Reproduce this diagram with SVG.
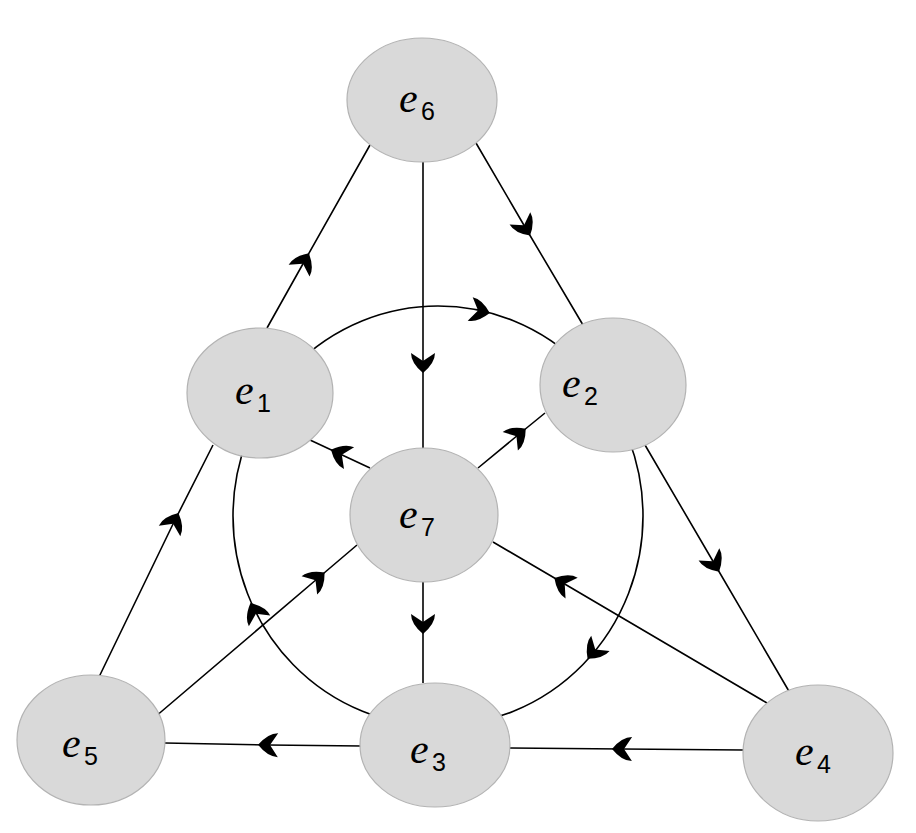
<svg xmlns="http://www.w3.org/2000/svg" xmlns:xlink="http://www.w3.org/1999/xlink" width="916" height="833" viewBox="0 0 916 833">
<style>
.edge{fill:none;stroke:#000;stroke-width:1.6;marker-mid:url(#mid)}
.ring{fill:none;stroke:#000;stroke-width:1.6}
.node{fill:#d9d9d9;stroke:#b3b3b3;stroke-width:1.2}
.v{font-family:"Liberation Serif","DejaVu Serif",serif;font-style:italic;font-size:42px;fill:#000}
.s{font-family:"Liberation Sans","DejaVu Sans",sans-serif;font-size:25px;fill:#000}
</style>
<defs>
<path id="ah" d="M10,0 Q0,-12 -10,-12 L-2,0 L-10,12 Q0,12 10,0 Z" fill="#000"/>
<marker id="mid" markerUnits="userSpaceOnUse" viewBox="-12 -14 24 28" markerWidth="24" markerHeight="28" refX="0" refY="0" orient="auto">
<use xlink:href="#ah" href="#ah"/>
</marker>
</defs>
<rect width="916" height="833" fill="#fff"/>
<g id="connectors">
<ellipse class="ring" cx="438" cy="516" rx="205" ry="210"/>
<use href="#ah" xlink:href="#ah" transform="translate(480,311) rotate(12)"/>
<use href="#ah" xlink:href="#ah" transform="translate(594,651) rotate(130)"/>
<use href="#ah" xlink:href="#ah" transform="translate(255,612) rotate(-117)"/>
<path class="edge" d="M267,328 L304,262 L370,145"/>
<path class="edge" d="M476,143 L525,227 L583,325"/>
<path class="edge" d="M423,162 L423,363 L423,449"/>
<path class="edge" d="M99,677 L174,522 L213,445"/>
<path class="edge" d="M155,717 L317,579 L357,545"/>
<path class="edge" d="M370,468 L340,454 L310,440"/>
<path class="edge" d="M478,468 L518,435 L545,413"/>
<path class="edge" d="M423,582 L423,624 L423,683"/>
<path class="edge" d="M767,703 L563,583 L493,542"/>
<path class="edge" d="M645,445 L714,563 L790,693"/>
<path class="edge" d="M743,750 L622,749 L510,748"/>
<path class="edge" d="M362,746 L268,745 L165,743"/>
</g>
<g id="e6"><ellipse class="node" cx="422" cy="100" rx="75" ry="62"/><text class="v" x="399" y="112">e</text><text class="s" x="421" y="120">6</text></g>
<g id="e1"><ellipse class="node" cx="260" cy="393" rx="73" ry="65"/><text class="v" x="235" y="404">e</text><text class="s" x="257" y="412">1</text></g>
<g id="e2"><ellipse class="node" cx="613" cy="385" rx="73" ry="67"/><text class="v" x="562" y="397">e</text><text class="s" x="584" y="405">2</text></g>
<g id="e7"><ellipse class="node" cx="424" cy="515" rx="74" ry="67"/><text class="v" x="399" y="528">e</text><text class="s" x="421" y="536">7</text></g>
<g id="e5"><ellipse class="node" cx="91" cy="740" rx="74" ry="65"/><text class="v" x="62" y="757">e</text><text class="s" x="84" y="765">5</text></g>
<g id="e3"><ellipse class="node" cx="435" cy="745" rx="75" ry="62"/><text class="v" x="410" y="763">e</text><text class="s" x="432" y="771">3</text></g>
<g id="e4"><ellipse class="node" cx="818" cy="753" rx="75" ry="68"/><text class="v" x="795" y="765">e</text><text class="s" x="817" y="773">4</text></g>
</svg>
